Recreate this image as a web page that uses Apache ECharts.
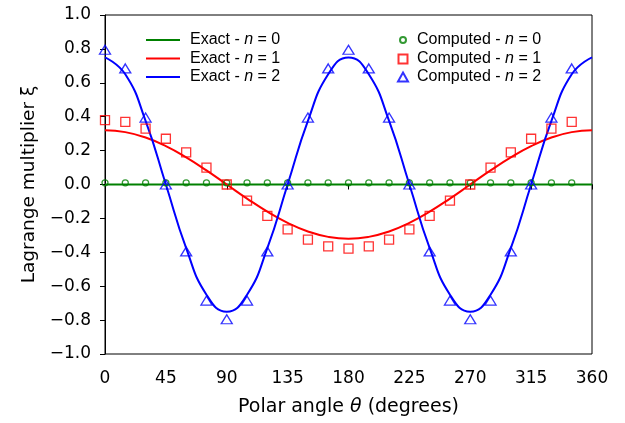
<!DOCTYPE html>
<html>
<head>
<meta charset="utf-8">
<script src="https://cdn.jsdelivr.net/npm/echarts@6/dist/echarts.min.js"></script>
<style>
html,body{margin:0;padding:0;background:#fff;}
#chart{width:625px;height:423px;}
</style>
</head>
<body>
<div id="chart"></div>
<script>
// Exact curves (read at 15° steps)
const thetaExact = [0,15,30,45,60,75,90,105,120,135,150,165,180,195,210,225,240,255,270,285,300,315,330,345,360];
const exactN0 = [0,0,0,0,0,0,0,0,0,0,0,0,0,0,0,0,0,0,0,0,0,0,0,0,0];
const exactN1 = [0.32,0.309,0.277,0.226,0.16,0.083,0,-0.083,-0.16,-0.226,-0.277,-0.309,-0.32,-0.309,-0.277,-0.226,-0.16,-0.083,0,0.083,0.16,0.226,0.277,0.309,0.32];
const exactN2 = [0.75,0.65,0.375,0,-0.375,-0.65,-0.75,-0.65,-0.375,0,0.375,0.65,0.75,0.65,0.375,0,-0.375,-0.65,-0.75,-0.65,-0.375,0,0.375,0.65,0.75];

// Computed points
const thetaComputed = [0,15,30,45,60,75,90,105,120,135,150,165,180,195,210,225,240,255,270,285,300,315,330,345];
const computedN0 = [0.01,0.01,0.01,0.01,0.01,0.01,0.01,0.01,0.01,0.01,0.01,0.01,0.01,0.01,0.01,0.01,0.01,0.01,0.01,0.01,0.01,0.01,0.01,0.01];
const computedN1 = [0.38,0.37,0.33,0.27,0.19,0.10,0.00,-0.095,-0.185,-0.265,-0.325,-0.365,-0.378,-0.365,-0.325,-0.265,-0.185,-0.095,0.00,0.10,0.19,0.27,0.33,0.37];
const computedN2 = [0.795,0.685,0.395,0.0,-0.395,-0.685,-0.795,-0.685,-0.395,0.0,0.395,0.685,0.795,0.685,0.395,0.0,-0.395,-0.685,-0.795,-0.685,-0.395,0.0,0.395,0.685];

// Axis settings
const xTicks = {min:0, max:360, interval:45};
const yTicks = {min:-1, max:1, interval:0.2};

// Legend labels
const exactNames = ['Exact - n = 0','Exact - n = 1','Exact - n = 2'];
const computedNames = ['Computed - n = 0','Computed - n = 1','Computed - n = 2'];

const GREEN = '#008000', RED = '#ff0000', BLUE = '#0000ff';
const FONT = 'Liberation Sans, Arial, sans-serif';
const AXFONT = 'DejaVu Sans, sans-serif';

function pairs(xs, ys){ return xs.map((x,i)=>[x, ys[i]]); }

function richFor(spacer){
  return {
    i:{fontStyle:'italic', fontFamily:FONT, fontSize:16, color:'#000'},
    t:{fontFamily:FONT, fontSize:16, color:'#000'},
    g:{width:spacer, fontSize:16}
  };
}
function fmt(name){ const p = name.split(' n '); return '{g|}{t|' + p[0] + ' }{i|n}{t| ' + p[1] + '}'; }

const chart = echarts.init(document.getElementById('chart'), null, {renderer:'canvas'});
chart.setOption({
  animation:false,
  backgroundColor:'#fff',
  grid:{left:105, right:33, top:15, bottom:69, show:true, borderColor:'#000', borderWidth:1, backgroundColor:'transparent'},
  xAxis:{
    type:'value', min:xTicks.min, max:xTicks.max, interval:xTicks.interval,
    name:'Polar angle {i|θ} (degrees)', nameLocation:'middle', nameGap:44,
    nameTextStyle:{fontFamily:AXFONT, fontSize:19, color:'#000',
      rich:{i:{fontStyle:'italic', fontFamily:AXFONT, fontSize:19, color:'#000'}}},
    axisLine:{show:true, lineStyle:{color:'#000', width:1}},
    axisTick:{show:true, inside:false, length:5, lineStyle:{color:'#000'}},
    axisLabel:{fontFamily:AXFONT, fontSize:17, color:'#000', margin:16},
    splitLine:{show:false}
  },
  yAxis:{
    type:'value', min:yTicks.min, max:yTicks.max, interval:yTicks.interval,
    name:'Lagrange multiplier ξ', nameLocation:'middle', nameGap:65,
    nameTextStyle:{fontFamily:AXFONT, fontSize:18.5, color:'#000'},
    axisLine:{show:true, lineStyle:{color:'#000', width:1}},
    axisTick:{show:true, inside:false, length:5, lineStyle:{color:'#000'}},
    axisLabel:{fontFamily:AXFONT, fontSize:17, color:'#000', margin:14,
      formatter:function(v){ return v.toFixed(1).replace('-', '\u2212'); }},
    splitLine:{show:false}
  },
  legend:[
    {orient:'vertical', left:141, top:27, itemWidth:34, itemHeight:2, itemGap:2.5,
     data:exactNames.map(n=>({name:n, icon:'rect'})),
     formatter:fmt,
     textStyle:{fontFamily:FONT, fontSize:16, color:'#000', rich:richFor(5)}},
    {orient:'vertical', left:394, top:27, itemWidth:6, itemHeight:6,
     data:[computedNames[0]],
     formatter:fmt,
     textStyle:{fontFamily:FONT, fontSize:16, color:'#000', rich:richFor(6)}},
    {orient:'vertical', left:392.5, top:46, itemWidth:9, itemHeight:9,
     data:[computedNames[1]],
     formatter:fmt,
     textStyle:{fontFamily:FONT, fontSize:16, color:'#000', rich:richFor(4.5)}},
    {orient:'vertical', left:392, top:64, itemWidth:10, itemHeight:9,
     data:[computedNames[2]],
     formatter:fmt,
     textStyle:{fontFamily:FONT, fontSize:16, color:'#000', rich:richFor(4)}}
  ],
  series:[
    {name:exactNames[0], type:'line', data:pairs(thetaExact, exactN0), symbol:'none', smooth:true,
     lineStyle:{color:GREEN, width:2}, itemStyle:{color:GREEN}, z:2},
    {name:exactNames[1], type:'line', data:pairs(thetaExact, exactN1), symbol:'none', smooth:true,
     lineStyle:{color:RED, width:2}, itemStyle:{color:RED}, z:2},
    {name:exactNames[2], type:'line', data:pairs(thetaExact, exactN2), symbol:'none', smooth:true,
     lineStyle:{color:BLUE, width:2}, itemStyle:{color:BLUE}, z:2},
    {name:computedNames[0], type:'scatter', data:pairs(thetaComputed, computedN0), symbol:'circle', symbolSize:6,
     itemStyle:{color:'rgba(0,0,0,0)', borderColor:GREEN, borderWidth:1.3}, z:3},
    {name:computedNames[1], type:'scatter', data:pairs(thetaComputed, computedN1), symbol:'rect', symbolSize:9,
     itemStyle:{color:'rgba(0,0,0,0)', borderColor:RED, borderWidth:1.3}, z:3},
    {name:computedNames[2], type:'scatter', data:pairs(thetaComputed, computedN2), symbol:'triangle', symbolSize:[11,9],
     itemStyle:{color:'rgba(0,0,0,0)', borderColor:BLUE, borderWidth:1.3}, z:3}
  ]
});
</script>
</body>
</html>
